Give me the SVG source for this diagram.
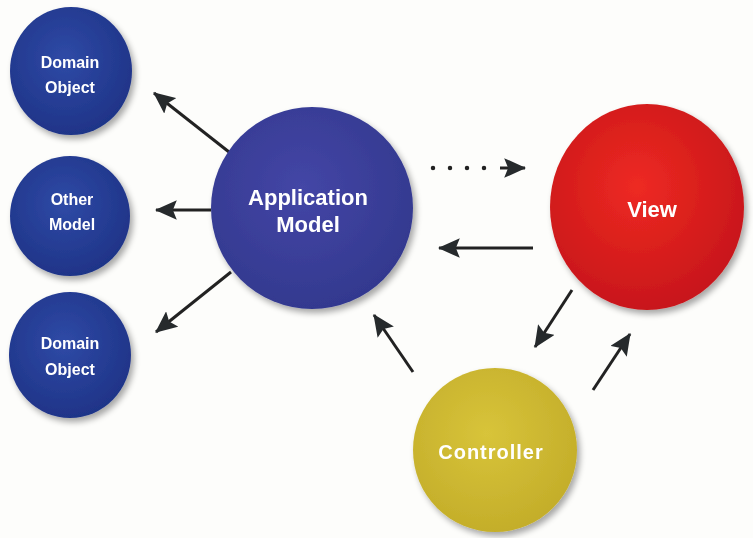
<svg xmlns="http://www.w3.org/2000/svg" width="753" height="538" viewBox="0 0 753 538">
<style>
.lbl{font-family:"Liberation Sans",Arial,sans-serif;font-weight:bold;fill:#fff;text-anchor:middle}
.sm{font-size:16px}
.lg{font-size:22px}
.ln{stroke:#222;stroke-width:3;fill:none;marker-end:url(#ah)}
</style>
<defs>
<marker id="ah" viewBox="0 0 10 9" refX="9.5" refY="4.5" markerWidth="7.3" markerHeight="6.6" orient="auto" markerUnits="strokeWidth">
<path d="M0,0 L10,4.5 L0,9 L1.8,4.5 z" fill="#262a2c"/>
</marker>
<radialGradient id="gb" cx="0.45" cy="0.4" r="0.6">
<stop offset="0" stop-color="#2f4aa6"/><stop offset="1" stop-color="#1f3488"/>
</radialGradient>
<radialGradient id="ga" cx="0.45" cy="0.4" r="0.6">
<stop offset="0" stop-color="#4446a6"/><stop offset="1" stop-color="#33398f"/>
</radialGradient>
<radialGradient id="gr" cx="0.45" cy="0.4" r="0.6">
<stop offset="0" stop-color="#ee2a22"/><stop offset="1" stop-color="#c8161a"/>
</radialGradient>
<radialGradient id="gy" cx="0.45" cy="0.4" r="0.6">
<stop offset="0" stop-color="#d8c43a"/><stop offset="1" stop-color="#c4ae2a"/>
</radialGradient>
<filter id="sh" x="-20%" y="-20%" width="140%" height="140%">
<feGaussianBlur in="SourceAlpha" stdDeviation="3"/>
<feOffset dx="3" dy="4"/>
<feComponentTransfer><feFuncA type="linear" slope="0.35"/></feComponentTransfer>
<feMerge><feMergeNode/><feMergeNode in="SourceGraphic"/></feMerge>
</filter>
</defs>
<rect width="753" height="538" fill="#fdfdfb"/>
<g id="connectors">
<line class="ln" x1="229" y1="152" x2="154" y2="93"/>
<line class="ln" x1="211" y1="210" x2="156" y2="210"/>
<line class="ln" x1="231" y1="272" x2="156" y2="332"/>
<line x1="433" y1="168" x2="492" y2="168" stroke="#222" stroke-width="4.5" stroke-dasharray="0,17" stroke-linecap="round"/>
<line class="ln" x1="500" y1="168" x2="525" y2="168"/>
<line class="ln" x1="533" y1="248" x2="439" y2="248"/>
<line class="ln" x1="572" y1="290" x2="535" y2="347"/>
<line class="ln" x1="593" y1="390" x2="630" y2="334"/>
<line class="ln" x1="413" y1="372" x2="374" y2="315"/>
</g>
<g id="domain-object-top" filter="url(#sh)">
<ellipse cx="71" cy="71" rx="61" ry="64" fill="url(#gb)"/>
<text class="lbl sm" x="70" y="68">Domain</text>
<text class="lbl sm" x="70" y="93">Object</text>
</g>
<g id="other-model" filter="url(#sh)">
<ellipse cx="70" cy="216" rx="60" ry="60" fill="url(#gb)"/>
<text class="lbl sm" x="72" y="205">Other</text>
<text class="lbl sm" x="72" y="230">Model</text>
</g>
<g id="domain-object-bottom" filter="url(#sh)">
<ellipse cx="70" cy="355" rx="61" ry="63" fill="url(#gb)"/>
<text class="lbl sm" x="70" y="349">Domain</text>
<text class="lbl sm" x="70" y="375">Object</text>
</g>
<g id="application-model" filter="url(#sh)">
<ellipse cx="312" cy="208" rx="101" ry="101" fill="url(#ga)"/>
<text class="lbl lg" x="308" y="205">Application</text>
<text class="lbl lg" x="308" y="232">Model</text>
</g>
<g id="view" filter="url(#sh)">
<ellipse cx="647" cy="207" rx="97" ry="103" fill="url(#gr)"/>
<text class="lbl lg" x="652" y="217">View</text>
</g>
<g id="controller" filter="url(#sh)">
<ellipse cx="495" cy="450" rx="82" ry="82" fill="url(#gy)"/>
<text class="lbl" style="font-size:20px;letter-spacing:1px" x="491" y="459">Controller</text>
</g>
</svg>
